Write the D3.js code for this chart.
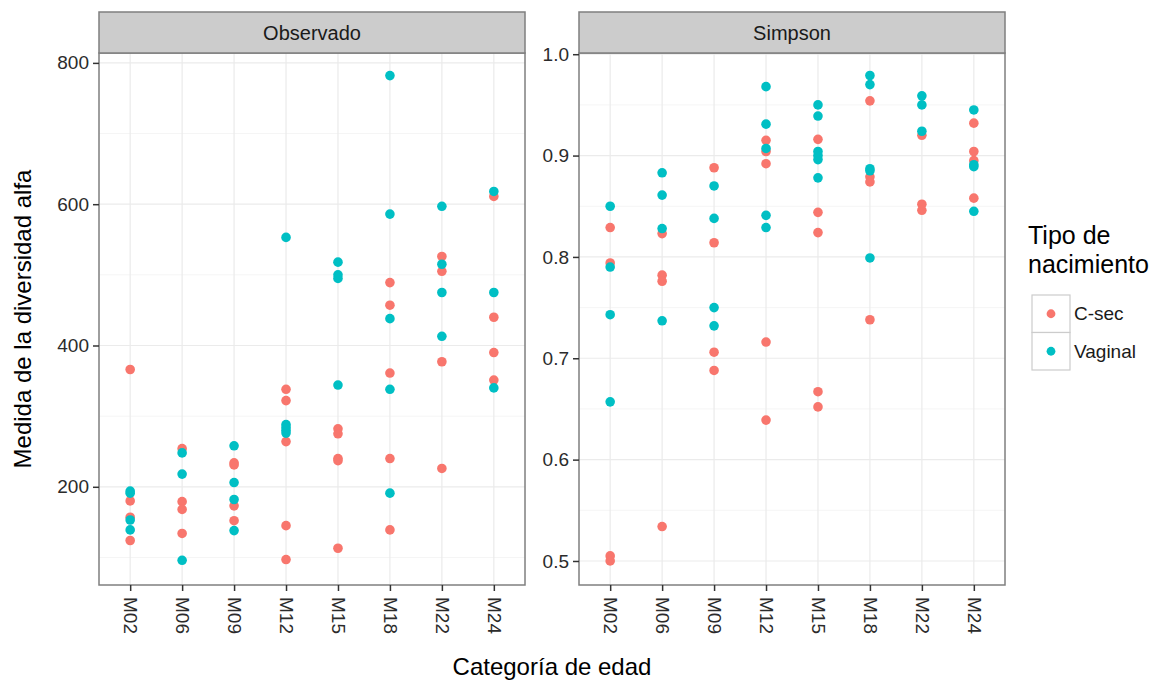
<!DOCTYPE html>
<html>
<head>
<meta charset="utf-8">
<script src="https://cdn.jsdelivr.net/npm/d3@7"></script>
<style>
  html, body { margin: 0; padding: 0; background: #ffffff; }
  svg { display: block; font-family: "Liberation Sans", Arial, Helvetica, sans-serif; }
</style>
</head>
<body>
<svg id="chart" width="1167" height="681"></svg>
<script>
// ---------------- DATA ----------------
const categories = ["M02", "M06", "M09", "M12", "M15", "M18", "M22", "M24"];
const seriesNames = ["C-sec", "Vaginal"];
const seriesColors = ["#F8766D", "#00BFC4"];
const panelNames = ["Observado", "Simpson"];

// values per category (same order as categories)
const observadoCsec = [
  [366, 180, 157, 124],
  [254, 179, 168, 134],
  [234, 231, 173, 152],
  [338, 322, 264, 145, 97],
  [282, 275, 240, 237, 113],
  [489, 457, 361, 240, 139],
  [526, 505, 377, 226],
  [611, 440, 390, 351]
];
const observadoVaginal = [
  [194, 191, 153, 139],
  [248, 218, 96],
  [258, 206, 182, 138],
  [553, 288, 284, 280, 276],
  [518, 500, 495, 344],
  [782, 586, 438, 338, 191],
  [597, 515, 475, 413],
  [618, 475, 340]
];
const simpsonCsec = [
  [0.829, 0.794, 0.505, 0.500],
  [0.823, 0.782, 0.776, 0.534],
  [0.888, 0.814, 0.706, 0.688],
  [0.915, 0.904, 0.892, 0.716, 0.639],
  [0.916, 0.844, 0.824, 0.667, 0.652],
  [0.954, 0.879, 0.874, 0.738],
  [0.920, 0.852, 0.846],
  [0.932, 0.904, 0.895, 0.858]
];
const simpsonVaginal = [
  [0.850, 0.790, 0.743, 0.657],
  [0.883, 0.861, 0.828, 0.737],
  [0.870, 0.838, 0.750, 0.732],
  [0.968, 0.931, 0.907, 0.841, 0.829],
  [0.950, 0.939, 0.904, 0.900, 0.896, 0.878],
  [0.979, 0.970, 0.887, 0.885, 0.799],
  [0.959, 0.950, 0.924],
  [0.945, 0.891, 0.889, 0.845]
];
const observadoTicks = [200, 400, 600, 800];
const simpsonTicks = [0.5, 0.6, 0.7, 0.8, 0.9, 1.0];

// ---------------- LAYOUT ----------------
const svg = d3.select("#chart");
const panelTop = 53, panelBottom = 585, stripTop = 12;

const panels = [
  { name: panelNames[0], x0: 99, x1: 525, domain: [61, 814], ticks: observadoTicks,
    fmt: d3.format("d"), series: [observadoCsec, observadoVaginal] },
  { name: panelNames[1], x0: 579, x1: 1005, domain: [0.4763, 1.0012], ticks: simpsonTicks,
    fmt: d3.format(".1f"), series: [simpsonCsec, simpsonVaginal] }
];

panels.forEach(p => {
  const x = d3.scalePoint().domain(categories).range([p.x0, p.x1]).padding(0.6);
  const y = d3.scaleLinear().domain(p.domain).range([panelBottom, panelTop]);
  const g = svg.append("g");

  g.append("rect").attr("x", p.x0).attr("y", panelTop)
    .attr("width", p.x1 - p.x0).attr("height", panelBottom - panelTop).attr("fill", "#fff");

  const step = p.ticks[1] - p.ticks[0];
  const minor = [p.ticks[0] - step / 2].concat(p.ticks.map(t => t + step / 2))
    .filter(v => v > p.domain[0] && v < p.domain[1]);
  g.selectAll(".minor").data(minor).join("line")
    .attr("x1", p.x0).attr("x2", p.x1)
    .attr("y1", d => y(d)).attr("y2", d => y(d))
    .attr("stroke", "#f5f5f5").attr("stroke-width", 1);
  g.selectAll(".major").data(p.ticks).join("line")
    .attr("x1", p.x0).attr("x2", p.x1)
    .attr("y1", d => y(d)).attr("y2", d => y(d))
    .attr("stroke", "#ebebeb").attr("stroke-width", 1.2);
  g.selectAll(".vgrid").data(categories).join("line")
    .attr("x1", d => x(d)).attr("x2", d => x(d))
    .attr("y1", panelTop).attr("y2", panelBottom)
    .attr("stroke", "#ebebeb").attr("stroke-width", 1.2);

  p.series.forEach((ser, si) => {
    const pts = [];
    ser.forEach((vals, ci) => vals.forEach(v => pts.push({ c: categories[ci], v })));
    g.append("g").selectAll("circle").data(pts).join("circle")
      .attr("cx", d => x(d.c)).attr("cy", d => y(d.v)).attr("r", 4.8)
      .attr("fill", seriesColors[si]);
  });

  g.append("rect").attr("x", p.x0).attr("y", panelTop)
    .attr("width", p.x1 - p.x0).attr("height", panelBottom - panelTop)
    .attr("fill", "none").attr("stroke", "#7f7f7f").attr("stroke-width", 1.5);

  g.append("rect").attr("x", p.x0).attr("y", stripTop)
    .attr("width", p.x1 - p.x0).attr("height", panelTop - stripTop)
    .attr("fill", "#cccccc").attr("stroke", "#7f7f7f").attr("stroke-width", 1.5);
  g.append("text").attr("x", (p.x0 + p.x1) / 2).attr("y", 40)
    .attr("text-anchor", "middle").attr("font-size", 20).attr("fill", "#1a1a1a")
    .text(p.name);

  const ya = g.append("g").attr("transform", `translate(${p.x0},0)`)
    .call(d3.axisLeft(y).tickValues(p.ticks).tickFormat(p.fmt).tickSize(6).tickPadding(4));
  ya.select(".domain").remove();
  ya.selectAll(".tick line").attr("stroke", "#333").attr("stroke-width", 1.5);
  ya.selectAll(".tick text").attr("font-size", 19).attr("fill", "#2b2b2b")
    .attr("font-family", "Liberation Sans, Arial, sans-serif");

  const xa = g.append("g").attr("transform", `translate(0,${panelBottom})`)
    .call(d3.axisBottom(x).tickSize(6).tickPadding(0));
  xa.select(".domain").remove();
  xa.selectAll(".tick line").attr("stroke", "#333").attr("stroke-width", 1.5);
  xa.selectAll(".tick text").attr("font-size", 19).attr("fill", "#2b2b2b")
    .attr("font-family", "Liberation Sans, Arial, sans-serif")
    .attr("text-anchor", "start").attr("dy", "0.35em")
    .attr("transform", "translate(0,12) rotate(90)").attr("y", 0).attr("x", 0);
});

svg.append("text").attr("x", 552).attr("y", 675).attr("text-anchor", "middle")
  .attr("font-size", 24).attr("fill", "#000").text("Categoría de edad");
svg.append("text").attr("transform", "translate(31,319) rotate(-90)")
  .attr("text-anchor", "middle").attr("font-size", 24).attr("fill", "#000")
  .text("Medida de la diversidad alfa");

const lg = svg.append("g");
lg.append("text").attr("x", 1028).attr("y", 244).attr("font-size", 25).attr("fill", "#000").text("Tipo de");
lg.append("text").attr("x", 1028).attr("y", 273).attr("font-size", 25).attr("fill", "#000").text("nacimiento");
seriesNames.forEach((s, i) => {
  const ky = 295 + i * 37.5;
  lg.append("rect").attr("x", 1032).attr("y", ky).attr("width", 38).attr("height", 37.5)
    .attr("fill", "#fff").attr("stroke", "#cccccc").attr("stroke-width", 1.2);
  lg.append("circle").attr("cx", 1051).attr("cy", ky + 18.75).attr("r", 4.4).attr("fill", seriesColors[i]);
  lg.append("text").attr("x", 1074).attr("y", ky + 18.75).attr("dy", "0.35em")
    .attr("font-size", 19).attr("fill", "#1a1a1a").text(s);
});
</script>
</body>
</html>
